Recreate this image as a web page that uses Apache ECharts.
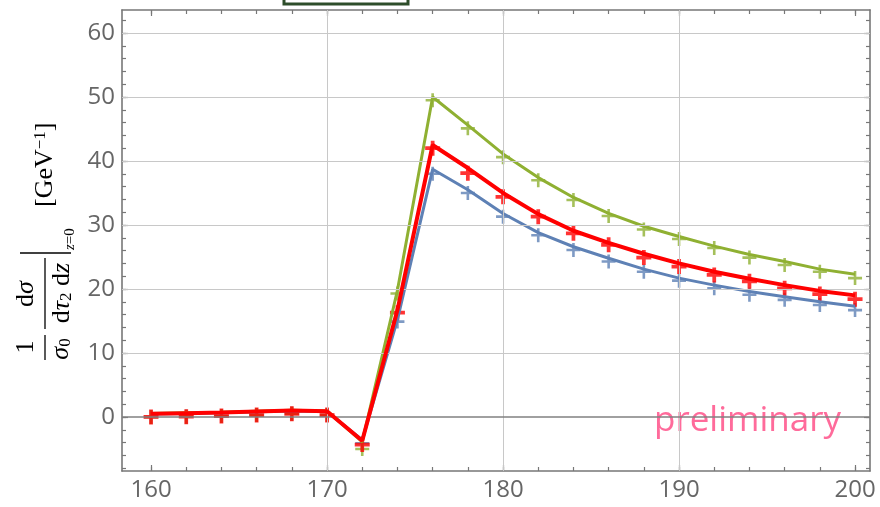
<!DOCTYPE html>
<html>
<head>
<meta charset="utf-8">
<script src="https://cdn.jsdelivr.net/npm/echarts@6/dist/echarts.min.js"></script>
<style>
html,body{margin:0;padding:0;background:#fff;}
#c{width:880px;height:507px;}
</style>
</head>
<body>
<div id="c"></div>
<script>
// ---- data ----
const xs = [160,162,164,166,168,170,172,174,176,178,180,182,184,186,188,190,192,194,196,198,200];
// curves (lines)
const greenLine = [0.55,0.65,0.75,0.9,1.05,0.95,-3.9,19.8,50.0,45.6,41.1,37.4,34.3,31.8,29.8,28.2,26.7,25.4,24.3,23.1,22.3];
const redLine   = [0.5,0.6,0.7,0.85,1.0,0.9,-3.7,16.7,42.5,38.9,35.0,31.7,29.1,27.2,25.5,24.0,22.7,21.6,20.6,19.7,19.0];
const blueLine  = [0.45,0.55,0.65,0.8,0.95,0.85,-3.6,15.2,38.7,35.5,31.8,28.8,26.6,24.8,23.1,21.7,20.6,19.6,18.8,18.0,17.3];
// points (+ markers)
const greenPts = [0.0,0.05,0.15,0.3,0.5,0.3,-5.0,19.3,49.5,45.1,40.6,37.0,33.9,31.4,29.3,27.8,26.4,24.9,23.75,22.7,21.7];
const redPts   = [0.0,0.05,0.15,0.3,0.5,0.3,-4.3,16.3,42.0,38.1,34.4,31.3,28.7,26.9,24.9,23.5,22.2,21.2,20.1,19.2,18.4];
const bluePts  = [0.0,0.05,0.15,0.3,0.5,0.3,-4.1,14.9,38.0,35.0,31.3,28.4,26.1,24.3,22.7,21.3,20.1,19.1,18.3,17.5,16.7];
// ticks
const xMajor = [160,170,180,190,200];
const xMinor = [160,162,164,166,168,170,172,174,176,178,180,182,184,186,188,190,192,194,196,198,200];
const yMajor = [0,10,20,30,40,50,60];
const yMinor = [-8,-6,-4,-2,0,2,4,6,8,10,12,14,16,18,20,22,24,26,28,30,32,34,36,38,40,42,44,46,48,50,52,54,56,58,60,62];
const xGrid = [170,180,190];
const yGrid = [10,20,30,40,50,60];

const X_MIN = 158.35, X_MAX = 200.85, Y_MIN = -8.44, Y_MAX = 63.59;
const AX = '#777';
const LBL = {color:'#666', fontFamily:'"Open Sans", sans-serif', fontSize:24};

function pairs(arr){ return xs.map((x,i)=>[x, arr[i]]); }

function xAx(pos, ticks, len, showLine, labels){
  return {
    type:'value', position:pos, min:X_MIN, max:X_MAX,
    axisLine:{show:showLine, onZero:false, lineStyle:{color:AX, width:1.6}},
    axisTick:{show:true, inside:true, length:len, customValues:ticks, lineStyle:{color:AX, width:1.2}},
    axisLabel: labels ? Object.assign({show:true, margin:7, customValues:labels}, LBL) : {show:false},
    splitLine:{show:false}, minorTick:{show:false}
  };
}
function yAx(pos, ticks, len, showLine, labels){
  return {
    type:'value', position:pos, min:Y_MIN, max:Y_MAX,
    axisLine:{show:showLine, onZero:false, lineStyle:{color:AX, width:1.6}},
    axisTick:{show:true, inside:true, length:len, customValues:ticks, lineStyle:{color:AX, width:1.2}},
    axisLabel: labels ? Object.assign({show:true, margin:7, customValues:labels}, LBL) : {show:false},
    splitLine:{show:false}, minorTick:{show:false}
  };
}

const plusThin = 'path://M-1.3,-7H1.3V-1.3H7V1.3H1.3V7H-1.3V1.3H-7V-1.3H-1.3Z';
const plusThick = 'path://M-1.75,-7H1.75V-1.75H7V1.75H1.75V7H-1.75V1.75H-7V-1.75H-1.75Z';

const gridLines = xGrid.map(v=>({xAxis:v})).concat(yGrid.map(v=>({yAxis:v})));
gridLines.push({yAxis:0, lineStyle:{color:'#808080', width:1.5}});

const chart = echarts.init(document.getElementById('c'), null, {renderer:'canvas'});
const serif = '"Liberation Serif", "DejaVu Serif", serif';
const rich = {
  r:{fontFamily:serif, fontSize:26, fill:'#000', color:'#000'},
  i:{fontFamily:serif, fontSize:26, fontStyle:'italic', fill:'#000', color:'#000'},
  s:{fontFamily:serif, fontSize:17, fill:'#000', color:'#000', verticalAlign:'bottom'},
  p:{fontFamily:serif, fontSize:17, fill:'#000', color:'#000', verticalAlign:'top'},
  si:{fontFamily:serif, fontSize:15, fontStyle:'italic', fill:'#000', color:'#000'},
  sr:{fontFamily:serif, fontSize:15, fill:'#000', color:'#000'}
};
function T(x,y,text,align){
  return {type:'text', x:x, y:y, silent:true,
    style:{text:text, rich:rich, font:'26px '+serif, fill:'#000',
      textAlign:align||'center', align:align||'center', textVerticalAlign:'middle', verticalAlign:'middle'}};
}
function L(x1,y1,x2,y2){
  return {type:'line', silent:true, shape:{x1:x1,y1:y1,x2:x2,y2:y2}, style:{stroke:'#000', lineWidth:1.3}};
}

chart.setOption({
  animation:false,
  backgroundColor:'#fff',
  grid:{left:122, right:10, top:10, bottom:36, containLabel:false},
  xAxis:[
    xAx('bottom', xMajor, 6, true, xMajor),
    xAx('bottom', xMinor, 4, false, null),
    xAx('top', xMajor, 6, true, null),
    xAx('top', xMinor, 4, false, null)
  ],
  yAxis:[
    yAx('left', yMajor, 6, true, yMajor),
    yAx('left', yMinor, 4, false, null),
    yAx('right', yMajor, 6, true, null),
    yAx('right', yMinor, 4, false, null)
  ],
  series:[
    {type:'line', data:[], z:1, silent:true,
     markLine:{silent:true, symbol:'none', label:{show:false},
       lineStyle:{color:'#c8c8c8', width:1, type:'solid'}, data:gridLines}},
    {type:'scatter', name:'blue pts', data:pairs(bluePts), symbol:plusThin, symbolSize:14, itemStyle:{color:'#5e81b5'}, z:2, silent:true},
    {type:'scatter', name:'green pts', data:pairs(greenPts), symbol:plusThin, symbolSize:14, itemStyle:{color:'#8fb032'}, z:2, silent:true},
    {type:'scatter', name:'red pts', data:pairs(redPts), symbol:plusThick, symbolSize:15, itemStyle:{color:'#ff0000'}, z:2, silent:true},
    {type:'line', name:'blue', data:pairs(blueLine), showSymbol:false, lineStyle:{color:'#5e81b5', width:3}, z:3, silent:true},
    {type:'line', name:'green', data:pairs(greenLine), showSymbol:false, lineStyle:{color:'#8fb032', width:3}, z:4, silent:true},
    {type:'line', name:'red', data:pairs(redLine), showSymbol:false, lineStyle:{color:'#ff0000', width:4}, z:5, silent:true}
  ],
  graphic:[
    {type:'rect', silent:true, shape:{x:284, y:-20, width:124, height:24},
     style:{fill:'#fff', stroke:'#2e4d2a', lineWidth:3}},
    {type:'text', silent:true, x:841, y:439,
     style:{text:'preliminary', font:'35px "Open Sans", sans-serif', fill:'#ff6b9b',
       textAlign:'right', align:'right', textVerticalAlign:'bottom', verticalAlign:'alphabetic'}},
    {type:'group', x:45, y:360, rotation:Math.PI/2, silent:true,
     children:[
       T(13,-19,'{r|1}'),
       L(0,0,25,0),
       T(11,16,'{i|σ}{s|0}'),
       L(31,0,102,0),
       T(66,-19,'{r|d}{i|σ}'),
       T(67,17,'{r|d}{i|τ}{s|2}{r| d}{i|z}'),
       L(107,-25,107,26),
       T(110,25,'{si|z}{sr|=0}','left'),
       T(153,0,'{r|[GeV}{p|−1}{r|]}','left')
     ]}
  ]
});
</script>
</body>
</html>
